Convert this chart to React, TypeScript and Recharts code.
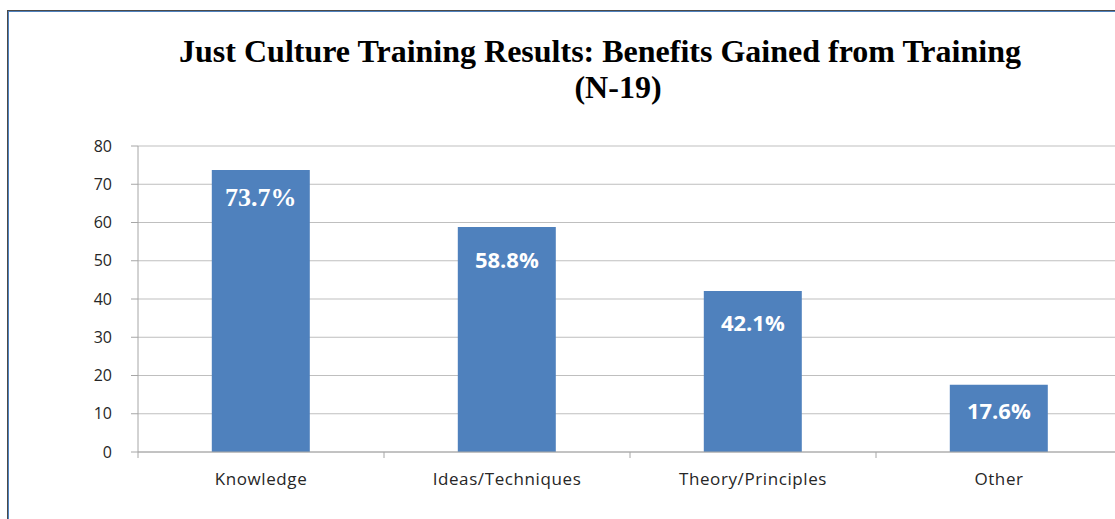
import React from "react";
import { BarChart, Bar, XAxis, YAxis, CartesianGrid, LabelList } from "recharts";

const categories = ["Knowledge", "Ideas/Techniques", "Theory/Principles", "Other"];
const percentages = [73.7, 58.8, 42.1, 17.6];
const yTicks = [0, 10, 20, 30, 40, 50, 60, 70, 80];
const titleLine1 = "Just Culture Training Results: Benefits Gained from Training";
const titleLine2 = "(N-19)";

const data = categories.map((name, i) => ({ name, value: percentages[i] }));

const BAR_COLOR = "#4F81BD";
const GRID_COLOR = "#BFBFBF";
const AXIS_COLOR = "#A6A6A6";
const TEXT_COLOR = "#262626";
const X_TICK_SIZE = 6;
const X_TICK_MARGIN = 15;
const LABEL_DY = [27, 32, 31, 25];

const XTick = (props: any) => {
  const { x, y, payload } = props;
  const off = payload && payload.offset ? payload.offset : 0;
  const axisY = y - X_TICK_MARGIN - X_TICK_SIZE;
  return (
    <g>
      <line x1={x - off} x2={x - off} y1={axisY} y2={axisY + X_TICK_SIZE} stroke={AXIS_COLOR} strokeWidth={1} />
      <text
        x={x}
        y={y}
        dy="0.71em"
        textAnchor="middle"
        fill={TEXT_COLOR}
        fontFamily="'Open Sans', sans-serif"
        fontSize={17}
        letterSpacing={0.6}
      >
        {payload.value}
      </text>
    </g>
  );
};

const BarLabel = (props: any) => {
  const { x, y, width, value, index } = props;
  const cx = Number(x) + Number(width) / 2;
  const cy = Number(y) + (LABEL_DY[index] ?? 28);
  const serif = index === 0;
  return (
    <text
      x={cx}
      y={cy}
      textAnchor="middle"
      dominantBaseline="central"
      fill="#FFFFFF"
      fontFamily={serif ? "'Liberation Serif', 'Times New Roman', serif" : "'Open Sans', sans-serif"}
      fontWeight="bold"
      fontSize={serif ? 26 : 22}
    >
      {`${Number(value).toFixed(1)}%`}
    </text>
  );
};

export default function App() {
  return (
    <div
      style={{
        position: "absolute",
        left: 7,
        top: 10,
        width: 1108,
        height: 509,
        overflow: "hidden",
        boxSizing: "border-box",
        borderLeft: "1px solid #4a4a4a",
        borderTop: "1px solid #4a4a4a",
        background: "#fff",
      }}
    >
      <div
        style={{
          position: "relative",
          width: "100%",
          height: "100%",
          boxSizing: "border-box",
          borderLeft: `1px solid ${BAR_COLOR}`,
          borderTop: `1px solid ${BAR_COLOR}`,
          overflow: "hidden",
        }}
      >
        <BarChart
          width={1120}
          height={500}
          data={data}
          margin={{ top: 134, right: 7, bottom: 0, left: 0 }}
          barCategoryGap="30%"
        >
          <CartesianGrid vertical={false} stroke={GRID_COLOR} strokeWidth={1} />
          <XAxis
            dataKey="name"
            height={60}
            axisLine={{ stroke: AXIS_COLOR }}
            tickLine={false}
            tickSize={X_TICK_SIZE}
            tickMargin={X_TICK_MARGIN}
            tick={<XTick />}
            interval={0}
          />
          <YAxis
            width={129}
            domain={[0, 80]}
            ticks={yTicks}
            axisLine={{ stroke: AXIS_COLOR }}
            tickLine={{ stroke: AXIS_COLOR }}
            tickSize={7}
            tickMargin={19}
            tick={{ fill: TEXT_COLOR, fontFamily: "'Open Sans', sans-serif", fontSize: 16 }}
            allowDecimals={false}
          />
          <Bar dataKey="value" fill={BAR_COLOR} isAnimationActive={false}>
            <LabelList dataKey="value" content={<BarLabel />} />
          </Bar>
        </BarChart>
        <div
          style={{
            position: "absolute",
            left: 0,
            top: 0,
            width: 1182,
            textAlign: "center",
            fontFamily: "'Liberation Serif', 'Times New Roman', serif",
            fontWeight: "bold",
            fontSize: 32,
            lineHeight: "30px",
            color: "#000",
            pointerEvents: "none",
          }}
        >
          <div style={{ position: "absolute", left: 0, top: 24, width: 1182, whiteSpace: "nowrap" }}>{titleLine1}</div>
          <div style={{ position: "absolute", left: 0, top: 60, width: 1218, whiteSpace: "nowrap" }}>{titleLine2}</div>
        </div>
      </div>
    </div>
  );
}
